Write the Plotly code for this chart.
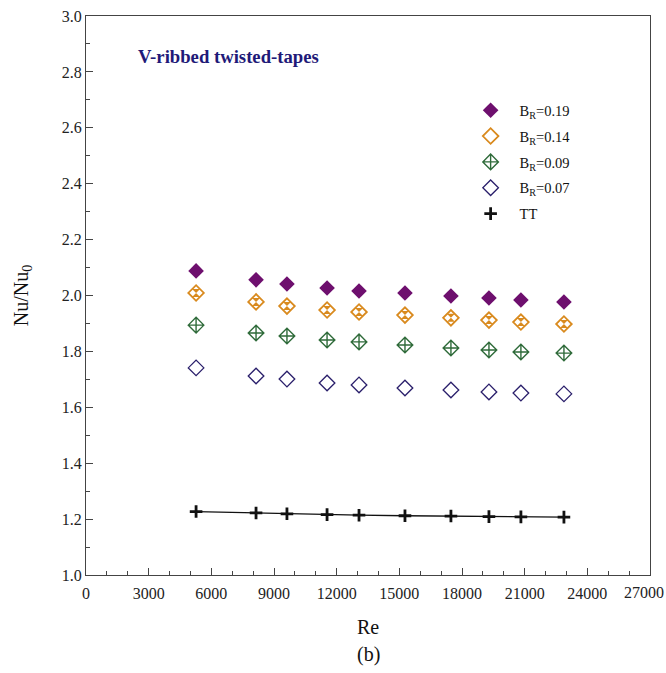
import plotly.graph_objects as go

re = [5270, 8140, 9620, 11540, 13070, 15270, 17470, 19290, 20820, 22880]
br019 = [2.088, 2.056, 2.041, 2.027, 2.016, 2.009, 1.998, 1.991, 1.984, 1.977]
br014 = [2.009, 1.977, 1.962, 1.948, 1.941, 1.930, 1.920, 1.912, 1.905, 1.898]
br009 = [1.894, 1.866, 1.855, 1.841, 1.834, 1.823, 1.812, 1.805, 1.798, 1.794]
br007 = [1.741, 1.712, 1.701, 1.687, 1.680, 1.669, 1.662, 1.655, 1.651, 1.648]
tt = [1.227, 1.222, 1.219, 1.216, 1.214, 1.212, 1.211, 1.209, 1.208, 1.207]

x_ticks = [0, 3000, 6000, 9000, 12000, 15000, 18000, 21000, 24000, 27000]
x_labels = ["0", "3000", "6000", "9000", "12000", "15000", "18000", "21000", "24000", "27000"]
y_ticks = [1.0, 1.2, 1.4, 1.6, 1.8, 2.0, 2.2, 2.4, 2.6, 2.8, 3.0]

FONT = "Liberation Serif"
purple = "#6E0F6E"
orange = "#D98A1E"
green = "#2F6B3A"
navy = "#2A1F6B"

fig = go.Figure()
fig.add_trace(go.Scatter(x=re, y=br019, mode="markers", name="B<sub>R</sub>=0.19",
                         marker=dict(symbol="diamond", size=12, color=purple, line=dict(width=0))))
fig.add_trace(go.Scatter(x=re, y=br014, mode="markers", name="B<sub>R</sub>=0.14", legendgroup="o",
                         marker=dict(symbol="diamond-open", size=12, color=orange, line=dict(width=1.8))))
fig.add_trace(go.Scatter(x=re, y=br014, mode="markers", showlegend=False, legendgroup="o", hoverinfo="skip",
                         marker=dict(symbol="hourglass", size=8, color=orange, line=dict(width=0))))
fig.add_trace(go.Scatter(x=re, y=br009, mode="markers", name="B<sub>R</sub>=0.09",
                         marker=dict(symbol="diamond-cross-open", size=12, color=green, line=dict(width=1.4))))
fig.add_trace(go.Scatter(x=re, y=br007, mode="markers", name="B<sub>R</sub>=0.07",
                         marker=dict(symbol="diamond-open", size=12, color=navy, line=dict(width=1.3))))
fig.add_trace(go.Scatter(x=re, y=tt, mode="lines", showlegend=False, legendgroup="tt", hoverinfo="skip",
                         line=dict(color="#111111", width=1.3)))
fig.add_trace(go.Scatter(x=re, y=tt, mode="markers", name="TT", legendgroup="tt",
                         marker=dict(symbol="cross-thin", size=9, color="#111111", line=dict(width=2.8, color="#111111"))))

fig.add_annotation(text="<b>V-ribbed twisted-tapes</b>", xref="paper", yref="paper", x=0.0887, y=0.928,
                   xanchor="left", yanchor="middle", showarrow=False,
                   font=dict(family=FONT, size=18.7, color="#1F1A78"))
fig.add_annotation(text="(b)", xref="paper", yref="paper", x=0.5, y=-0.143,
                   xanchor="center", yanchor="middle", showarrow=False,
                   font=dict(family=FONT, size=20, color="#111111"))
# last x tick label, nudged left so it stays inside the page
fig.add_annotation(text=x_labels[-1], xref="x", yref="paper", x=x_ticks[-1], y=0,
                   xanchor="center", yanchor="top", xshift=-6, yshift=-7, showarrow=False,
                   font=dict(family=FONT, size=16, color="#222222"))

axis_common = dict(showline=True, linecolor="#444444", linewidth=1.2, mirror=True,
                   ticks="inside", ticklen=7, tickcolor="#444444", showgrid=False, zeroline=False,
                   tickfont=dict(family=FONT, size=16, color="#222222"))

fig.update_xaxes(range=[0, 27000], tickvals=x_ticks, ticktext=x_labels[:-1] + [""],
                 ticklabelstandoff=4,
                 minor=dict(dtick=1000, ticks="inside", ticklen=4, tickcolor="#444444"),
                 title=dict(text="Re", font=dict(family=FONT, size=20, color="#111111"), standoff=18),
                 **axis_common)
fig.update_yaxes(range=[1.0, 3.0], tickvals=y_ticks, ticktext=[f"{v:.1f}" for v in y_ticks],
                 minor=dict(dtick=0.1, ticks="inside", ticklen=4, tickcolor="#444444"),
                 title=dict(text="Nu/Nu<sub>0</sub>", font=dict(family=FONT, size=20, color="#111111"), standoff=27),
                 **axis_common)

fig.update_layout(width=666, height=673, margin=dict(l=86, r=16, t=16, b=98, autoexpand=False),
                  plot_bgcolor="white", paper_bgcolor="white",
                  legend=dict(x=0.666, y=0.86, xanchor="left", yanchor="top", bgcolor="rgba(0,0,0,0)",
                              font=dict(family=FONT, size=14.5, color="#111111"), tracegroupgap=4,
                              itemwidth=48),
                  font=dict(family=FONT))

fig.write_html("out.html", config={"displayModeBar": False},
               post_script="document.body.style.margin='0';document.body.style.padding='0';")
